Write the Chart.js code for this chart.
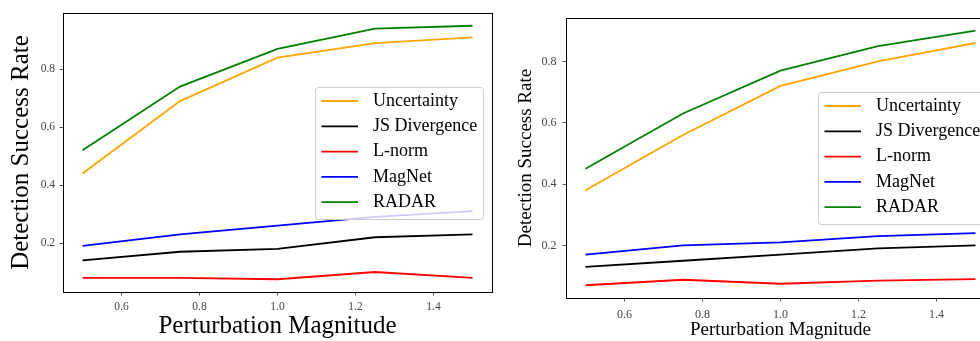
<!DOCTYPE html>
<html>
<head>
<meta charset="utf-8">
<script src="https://cdn.jsdelivr.net/npm/chart.js@4.4.1/dist/chart.umd.min.js"></script>
<style>
  html, body { margin: 0; padding: 0; background: #fff; overflow: hidden; }
  #wrap { position: relative; width: 980px; height: 341px; overflow: hidden; }
  #leftChart { position: absolute; left: 0; top: 0; }
  #rightChart { position: absolute; left: 500px; top: 0; }
</style>
</head>
<body>
<div id="wrap">
  <canvas id="leftChart" width="500" height="341"></canvas>
  <canvas id="rightChart" width="500" height="341"></canvas>
</div>
<script>
// perturbation magnitudes on the x axis
var magnitudes = [0.5, 0.75, 1.0, 1.25, 1.5];
var xTickValues = [0.6, 0.8, 1.0, 1.2, 1.4];
var yTickValues = [0.2, 0.4, 0.6, 0.8];
var methodNames = ['Uncertainty', 'JS Divergence', 'L-norm', 'MagNet', 'RADAR'];
var methodColors = ['#ffa500', '#000000', '#ff0000', '#0000ff', '#008000'];

// left plot
var uncertaintyLeft = [0.44, 0.69, 0.84, 0.89, 0.91];
var jsDivLeft = [0.14, 0.17, 0.18, 0.22, 0.23];
var lnormLeft = [0.08, 0.08, 0.075, 0.10, 0.08];
var magnetLeft = [0.19, 0.23, 0.26, 0.29, 0.31];
var radarLeft = [0.52, 0.74, 0.87, 0.94, 0.95];

// right plot
var uncertaintyRight = [0.38, 0.56, 0.72, 0.80, 0.86];
var jsDivRight = [0.13, 0.15, 0.17, 0.19, 0.20];
var lnormRight = [0.07, 0.088, 0.075, 0.085, 0.09];
var magnetRight = [0.17, 0.20, 0.21, 0.23, 0.24];
var radarRight = [0.45, 0.63, 0.77, 0.85, 0.90];

var serif = "'Liberation Serif', 'Times New Roman', serif";

// legend box drawn inside the plot area (semi transparent like matplotlib)
var insideLegend = {
  id: 'insideLegend',
  afterDatasetsDraw: function (chart, args, opts) {
    var ctx = chart.ctx;
    ctx.save();
    ctx.beginPath();
    ctx.roundRect(opts.left + 0.5, opts.top + 0.5, opts.width, opts.height, 3);
    ctx.fillStyle = 'rgba(255,255,255,0.8)';
    ctx.fill();
    ctx.strokeStyle = '#cccccc';
    ctx.lineWidth = 1;
    ctx.stroke();
    ctx.font = opts.fontSize + 'px ' + serif;
    ctx.textBaseline = 'middle';
    chart.data.datasets.forEach(function (ds, i) {
      var y = opts.top + opts.firstRow + i * opts.rowGap;
      ctx.strokeStyle = ds.borderColor;
      ctx.lineWidth = ds.borderWidth;
      ctx.beginPath();
      ctx.moveTo(opts.left + opts.lineStart, y);
      ctx.lineTo(opts.left + opts.lineEnd, y);
      ctx.stroke();
      ctx.fillStyle = '#000';
      ctx.fillText(ds.label, opts.left + opts.textStart, y);
    });
    ctx.restore();
  }
};

// four spines round the plot area
var frame = {
  id: 'frame',
  afterDraw: function (chart) {
    var a = chart.chartArea;
    var ctx = chart.ctx;
    ctx.save();
    ctx.strokeStyle = '#000';
    ctx.lineWidth = 1;
    ctx.strokeRect(a.left + 0.5, a.top + 0.5, a.right - a.left, a.bottom - a.top);
    ctx.restore();
  }
};

function points(values) {
  return values.map(function (v, i) { return { x: magnitudes[i], y: v }; });
}

function makeChart(id, series, cfg) {
  var datasets = series.map(function (values, i) {
    return {
      label: methodNames[i],
      data: points(values),
      borderColor: methodColors[i],
      backgroundColor: methodColors[i],
      borderWidth: 1.8,
      pointRadius: 0,
      tension: 0,
      fill: false
    };
  });

  var ctx = document.getElementById(id).getContext('2d');
  return new Chart(ctx, {
    type: 'line',
    data: { datasets: datasets },
    plugins: [insideLegend, frame],
    options: {
      responsive: false,
      animation: false,
      devicePixelRatio: 1,
      layout: { padding: { left: 0, top: cfg.padTop, right: cfg.padRight, bottom: 0 } },
      plugins: {
        legend: { display: false },
        tooltip: { enabled: false },
        insideLegend: cfg.legend
      },
      scales: {
        x: {
          type: 'linear',
          min: 0.45,
          max: 1.55,
          afterBuildTicks: function (scale) {
            scale.ticks = xTickValues.map(function (v) { return { value: v }; });
          },
          afterFit: function (scale) { scale.height = cfg.xHeight; },
          ticks: {
            callback: function (v) { return v.toFixed(1); },
            color: '#444',
            font: { family: serif, size: cfg.tickSize },
            padding: cfg.xTickPad,
            maxRotation: 0
          },
          grid: { drawOnChartArea: false, tickLength: 3.5, tickColor: '#555', color: '#555' },
          border: { display: false },
          title: {
            display: true,
            text: 'Perturbation Magnitude',
            color: '#000',
            font: { family: serif, size: cfg.titleSize },
            padding: { top: 0, bottom: cfg.xTitlePad }
          }
        },
        y: {
          type: 'linear',
          min: cfg.yMin,
          max: cfg.yMax,
          afterBuildTicks: function (scale) {
            scale.ticks = yTickValues.map(function (v) { return { value: v }; });
          },
          afterFit: function (scale) { scale.width = cfg.yWidth; },
          ticks: {
            callback: function (v) { return v.toFixed(1); },
            color: '#444',
            font: { family: serif, size: cfg.tickSize },
            padding: cfg.yTickPad
          },
          grid: { drawOnChartArea: false, tickLength: 3.5, tickColor: '#555', color: '#555' },
          border: { display: false },
          title: {
            display: true,
            text: 'Detection Success Rate',
            color: '#000',
            font: { family: serif, size: cfg.titleSize },
            padding: { top: cfg.yTitlePad, bottom: 0 }
          }
        }
      }
    }
  });
}

makeChart('leftChart', [uncertaintyLeft, jsDivLeft, lnormLeft, magnetLeft, radarLeft], {
  padTop: 13, padRight: 8, xHeight: 49, yWidth: 63,
  yMin: 0.031, yMax: 0.994,
  tickSize: 11.5, titleSize: 25,
  xTickPad: 4.5, yTickPad: 4.5, xTitlePad: 0, yTitlePad: 6,
  legend: { left: 315, top: 87, width: 168, height: 132, firstRow: 14, rowGap: 25.3,
            lineStart: 6.5, lineEnd: 43, textStart: 58, fontSize: 18 }
});

makeChart('rightChart', [uncertaintyRight, jsDivRight, lnormRight, magnetRight, radarRight], {
  padTop: 18, padRight: 5, xHeight: 43, yWidth: 66,
  yMin: 0.0285, yMax: 0.9415,
  tickSize: 12, titleSize: 19,
  xTickPad: 6, yTickPad: 6, xTitlePad: 0, yTitlePad: 15,
  legend: { left: 318, top: 92, width: 168, height: 132, firstRow: 14, rowGap: 25.3,
            lineStart: 6.5, lineEnd: 43, textStart: 58, fontSize: 18 }
});
</script>
</body>
</html>
